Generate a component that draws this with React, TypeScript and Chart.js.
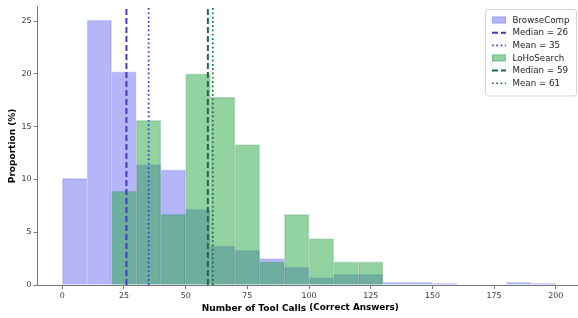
import React, { useEffect, useRef } from "react";
import { Chart, registerables } from "chart.js";

Chart.register(...registerables);

// ---- data ----
const binStarts = [0, 10, 20, 30, 40, 50, 60, 70, 80, 90, 100, 110, 120, 130, 140, 150, 160, 170, 180, 190];
const binWidth = 10;
const browseCompPct = [10.1, 25.1, 20.2, 11.4, 10.9, 7.2, 3.7, 3.3, 2.5, 1.7, 0.7, 1.0, 1.0, 0.28, 0.28, 0.15, 0, 0, 0.28, 0.15];
const lohoSearchPct = [0, 0, 8.9, 15.6, 6.7, 20.0, 17.8, 13.3, 2.2, 6.7, 4.4, 2.2, 2.2, 0, 0, 0, 0, 0, 0, 0];
const browseCompMedian = 26;
const browseCompMean = 35;
const lohoSearchMedian = 59;
const lohoSearchMean = 61;
const xTickValues = [0, 25, 50, 75, 100, 125, 150, 175, 200];
const yTickValues = [0, 5, 10, 15, 20, 25];
const xLimits = [-10, 209];
const yLimits = [0, 26.36];
const xTitleMain = "Number of Tool Calls";
const xTitleSub = "(Correct Answers)";
const yTitle = "Proportion (%)";

const FONT = "'DejaVu Sans', 'Liberation Sans', sans-serif";

const BLUE_FILL = "rgba(99,102,241,0.48)";
const BLUE_EDGE = "rgba(80,82,225,0.22)";
const GREEN_FILL = "rgba(40,167,69,0.5)";
const GREEN_EDGE = "rgba(20,120,50,0.22)";
const BLUE_LINE = "#4338ca";
const GREEN_LINE = "#16703d";
const DASH = [6, 3];
const DOT = [1.7, 2.6];

const extrasPlugin = {
  id: "extras",
  afterDraw(chart: any) {
    const ctx = chart.ctx as CanvasRenderingContext2D;
    const area = chart.chartArea;
    ctx.save();
    // x title
    ctx.fillStyle = "#000";
    ctx.textBaseline = "alphabetic";
    ctx.textAlign = "left";
    ctx.font = `bold 9px ${FONT}`;
    const startX = 201.7;
    ctx.fillText(xTitleMain, startX, 311);
    const w1 = ctx.measureText(xTitleMain + " ").width;
    ctx.font = `bold 8.8px ${FONT}`;
    ctx.fillText(xTitleSub, startX + w1, 310);
    // y title
    ctx.save();
    ctx.translate(13, (area.top + area.bottom) / 2);
    ctx.rotate(-Math.PI / 2);
    ctx.textAlign = "center";
    ctx.textBaseline = "middle";
    ctx.font = `bold 9px ${FONT}`;
    ctx.fillText(yTitle, 0, 0);
    ctx.restore();

    // legend
    const bx = 485.5, by = 9.5, bw = 91, bh = 86.5, r = 2.5;
    ctx.beginPath();
    ctx.moveTo(bx + r, by);
    ctx.lineTo(bx + bw - r, by);
    ctx.quadraticCurveTo(bx + bw, by, bx + bw, by + r);
    ctx.lineTo(bx + bw, by + bh - r);
    ctx.quadraticCurveTo(bx + bw, by + bh, bx + bw - r, by + bh);
    ctx.lineTo(bx + r, by + bh);
    ctx.quadraticCurveTo(bx, by + bh, bx, by + bh - r);
    ctx.lineTo(bx, by + r);
    ctx.quadraticCurveTo(bx, by, bx + r, by);
    ctx.closePath();
    ctx.fillStyle = "rgba(255,255,255,0.8)";
    ctx.fill();
    ctx.strokeStyle = "#d4d4d4";
    ctx.lineWidth = 1;
    ctx.stroke();

    const datasets = chart.data.datasets;
    datasets.forEach((ds: any, i: number) => {
      const y = 20 + 12.65 * i;
      const hx = 492, hw = 14;
      if (ds.type === "bar") {
        ctx.setLineDash([]);
        ctx.fillStyle = ds.backgroundColor;
        ctx.fillRect(hx, y - 3.5, hw, 7);
        ctx.strokeStyle = ds.borderColor;
        ctx.lineWidth = 1;
        ctx.strokeRect(hx + 0.5, y - 3, hw - 1, 6);
      } else {
        ctx.beginPath();
        ctx.setLineDash(ds.borderDash || []);
        ctx.strokeStyle = ds.borderColor;
        ctx.lineWidth = ds.borderWidth;
        ctx.moveTo(hx, y);
        ctx.lineTo(hx + hw, y);
        ctx.stroke();
        ctx.setLineDash([]);
      }
      ctx.fillStyle = "#222";
      ctx.font = `8.7px ${FONT}`;
      ctx.textAlign = "left";
      ctx.textBaseline = "middle";
      ctx.fillText(ds.label, 512.5, y + 0.5);
    });
    ctx.restore();
  },
};

export default function App() {
  const ref = useRef<HTMLCanvasElement>(null);
  useEffect(() => {
    const canvas = ref.current;
    if (!canvas) return;
    const barData = (vals: number[]) =>
      binStarts.map((s, i) => ({ x: s + binWidth / 2, y: vals[i] }));
    const vline = (v: number) => [
      { x: v, y: yLimits[0] },
      { x: v, y: yLimits[1] },
    ];
    const lineDs = (label: string, v: number, color: string, dash: number[], width: number) => ({
      type: "line" as const,
      label,
      data: vline(v),
      borderColor: color,
      backgroundColor: color,
      borderWidth: width,
      borderDash: dash,
      pointRadius: 0,
      fill: false,
      tension: 0,
      order: 0,
    });
    const chart = new Chart(canvas, {
      type: "bar",
      data: {
        datasets: [
          {
            type: "bar",
            label: "BrowseComp",
            data: barData(browseCompPct),
            backgroundColor: BLUE_FILL,
            borderColor: BLUE_EDGE,
            borderWidth: 1,
            grouped: false,
            barPercentage: 1,
            categoryPercentage: 1,
            order: 3,
          } as any,
          lineDs(`Median = ${browseCompMedian}`, browseCompMedian, BLUE_LINE, DASH, 2),
          lineDs(`Mean = ${browseCompMean}`, browseCompMean, BLUE_LINE, DOT, 1.7),
          {
            type: "bar",
            label: "LoHoSearch",
            data: barData(lohoSearchPct),
            backgroundColor: GREEN_FILL,
            borderColor: GREEN_EDGE,
            borderWidth: 1,
            grouped: false,
            barPercentage: 1,
            categoryPercentage: 1,
            order: 2,
          } as any,
          lineDs(`Median = ${lohoSearchMedian}`, lohoSearchMedian, GREEN_LINE, DASH, 2),
          lineDs(`Mean = ${lohoSearchMean}`, lohoSearchMean, GREEN_LINE, DOT, 1.7),
        ],
      },
      options: {
        animation: false,
        responsive: false,
        devicePixelRatio: 1,
        layout: { padding: { top: 5, right: 0, left: 0, bottom: 0 } },
        plugins: {
          legend: { display: false },
          tooltip: { enabled: false },
        },
        scales: {
          x: {
            type: "linear",
            min: xLimits[0],
            max: xLimits[1],
            offset: false,
            grid: {
              offset: false,
              drawOnChartArea: false,
              drawTicks: true,
              tickLength: 4,
              color: "#777",
            },
            border: { display: true, color: "#777", width: 1 },
            ticks: {
              font: { family: FONT, size: 7.9 },
              color: "#333",
              padding: 2,
              maxRotation: 0,
              autoSkip: false,
              includeBounds: false,
            },
            afterBuildTicks: (s: any) => {
              s.ticks = xTickValues.map((v) => ({ value: v }));
            },
            afterFit: (s: any) => {
              s.height = 33;
            },
          },
          y: {
            type: "linear",
            min: yLimits[0],
            max: yLimits[1],
            grid: {
              drawOnChartArea: false,
              drawTicks: true,
              tickLength: 4,
              color: "#777",
            },
            border: { display: true, color: "#777", width: 1 },
            ticks: {
              font: { family: FONT, size: 7.9 },
              color: "#333",
              padding: 2,
              includeBounds: false,
            },
            afterBuildTicks: (s: any) => {
              s.ticks = yTickValues.map((v) => ({ value: v }));
            },
            afterFit: (s: any) => {
              s.width = 37.6;
            },
          },
        },
      } as any,
      plugins: [extrasPlugin],
    });
    return () => chart.destroy();
  }, []);

  return (
    <div style={{ position: "fixed", left: 0, top: 0, width: 578, height: 318, background: "#fff" }}>
      <canvas ref={ref} width={578} height={318} style={{ display: "block" }} />
    </div>
  );
}
